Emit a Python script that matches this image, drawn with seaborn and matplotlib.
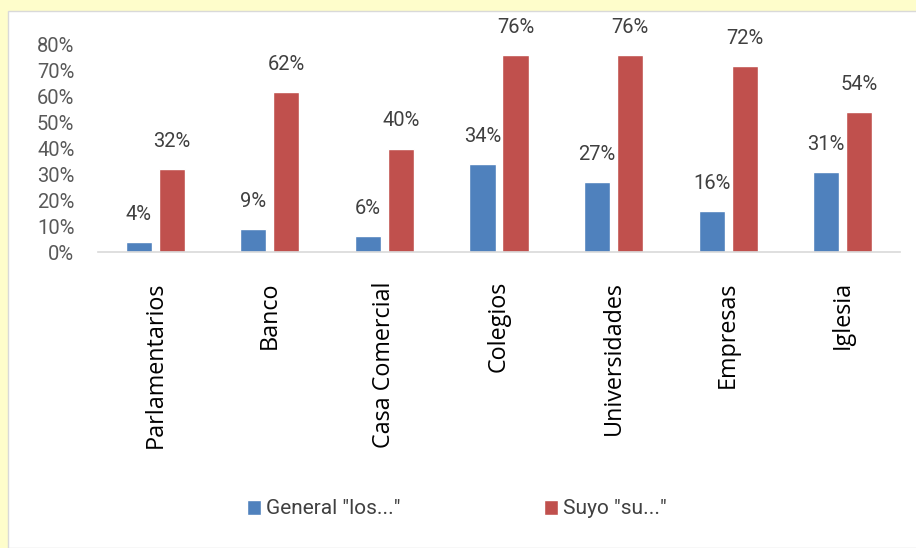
import pandas as pd
import matplotlib.pyplot as plt
import seaborn as sns
from matplotlib.patches import Rectangle
from matplotlib.ticker import PercentFormatter

categories = ["Parlamentarios", "Banco", "Casa Comercial", "Colegios",
              "Universidades", "Empresas", "Iglesia"]
general = [0.04, 0.09, 0.06, 0.34, 0.27, 0.16, 0.31]
suyo = [0.32, 0.62, 0.40, 0.76, 0.76, 0.72, 0.54]
series_names = ['General "los..."', 'Suyo "su..."']
PALETTE = {series_names[0]: "#4F81BD", series_names[1]: "#C0504D"}

df = pd.DataFrame({
    "categoria": categories * 2,
    "serie": [series_names[0]] * len(categories) + [series_names[1]] * len(categories),
    "valor": general + suyo,
})

sns.set_theme(style="white")
plt.rcParams["font.family"] = ["Roboto", "DejaVu Sans"]

fig = plt.figure(figsize=(9.16, 5.48), dpi=100, facecolor="#FEFDCB")
# white chart area with thin border, as in the spreadsheet chart
fig.patches.append(Rectangle((8 / 916, 0), 1, 1 - 11 / 548, transform=fig.transFigure,
                             facecolor="white", edgecolor="#D9D9D9", linewidth=1, zorder=-10))

ax = fig.add_axes([98 / 916, 1 - 252 / 548, 802 / 916, 207 / 548])
ax.set_facecolor("none")
sns.barplot(data=df, x="categoria", y="valor", hue="serie", order=categories,
            hue_order=series_names, palette=PALETTE, width=0.576, gap=0.21,
            saturation=1, errorbar=None, ax=ax)

for cont in ax.containers:
    ax.bar_label(cont, labels=[f"{v * 100:.0f}%" for v in cont.datavalues],
                 padding=13, fontsize=14.5, color="#404040")

ax.set_ylim(0, 0.8)
ax.set_yticks([i / 10 for i in range(9)])
ax.yaxis.set_major_formatter(PercentFormatter(1, decimals=0))
ax.set_xlabel("")
ax.set_ylabel("")
ax.tick_params(axis="y", length=0, pad=17, labelsize=14.5, labelcolor="#595959")
ax.tick_params(axis="x", length=0, pad=21, labelsize=16.8, labelcolor="black", rotation=90)
for lab in ax.get_xticklabels():
    lab.set_fontfamily(["Open Sans", "DejaVu Sans"])
for s in ["top", "right", "left"]:
    ax.spines[s].set_visible(False)
ax.spines["bottom"].set_color("#D9D9D9")
ax.spines["bottom"].set_linewidth(1.2)

sns.move_legend(ax, "center", bbox_to_anchor=(457 / 916, 1 - 509 / 548),
                bbox_transform=fig.transFigure, ncol=2, frameon=False, title=None,
                fontsize=15, handlelength=0.65, handleheight=0.75, handletextpad=0.25,
                columnspacing=6.9, labelcolor="#404040")

plt.savefig("out.png", dpi=100, facecolor=fig.get_facecolor())
plt.close()
